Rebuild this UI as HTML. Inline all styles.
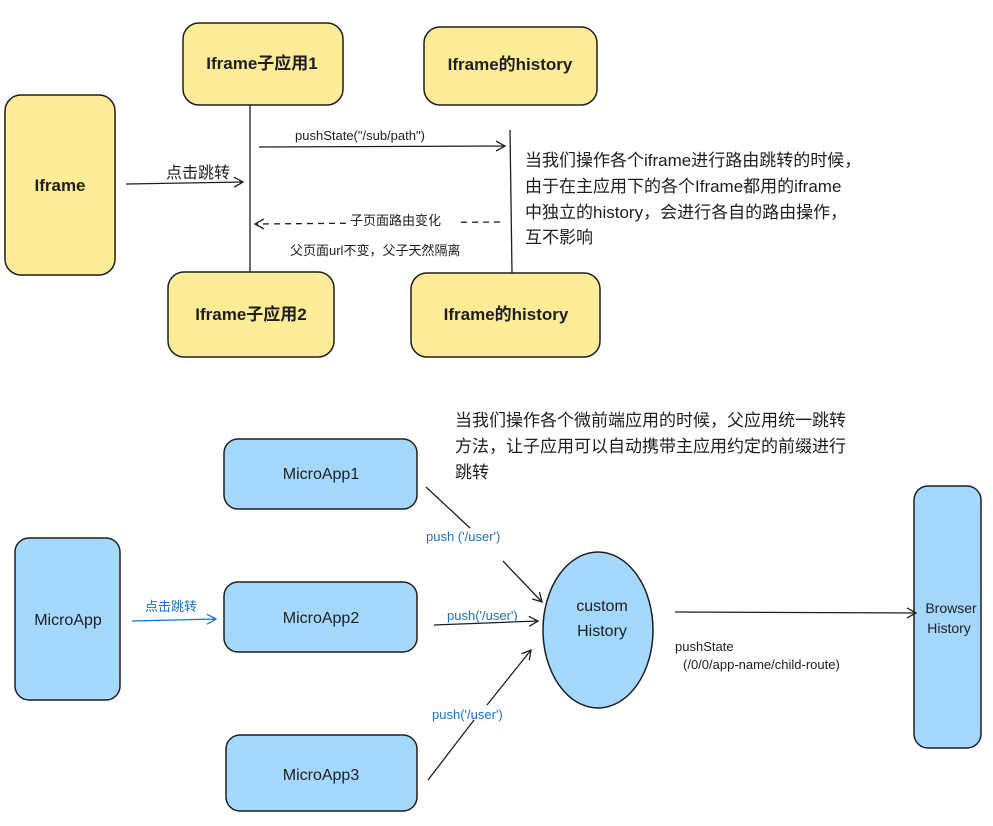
<!DOCTYPE html>
<html><head><meta charset="utf-8"><style>
body{margin:0;background:#fff}
svg text{font-family:"Liberation Sans","Noto Sans CJK SC",sans-serif}
</style></head><body>
<svg width="993" height="821" viewBox="0 0 993 821" xmlns="http://www.w3.org/2000/svg">
<defs>
<marker id="a" markerWidth="12" markerHeight="12" refX="10" refY="6" orient="auto" markerUnits="userSpaceOnUse"><path d="M1,1 L10,6 L1,11" fill="none" stroke="#1e1e1e" stroke-width="1.3"/></marker>
<marker id="b" markerWidth="12" markerHeight="12" refX="10" refY="6" orient="auto" markerUnits="userSpaceOnUse"><path d="M1,1 L10,6 L1,11" fill="none" stroke="#1971c2" stroke-width="1.3"/></marker>
</defs>
<g stroke="#1e1e1e" stroke-width="1.5" fill="#ffec99">
<rect x="5" y="95" width="110" height="180" rx="16"/>
<rect x="183" y="23" width="160" height="82" rx="16"/>
<rect x="424" y="27" width="173" height="78" rx="16"/>
<rect x="168" y="272" width="166" height="85" rx="16"/>
<rect x="411" y="273" width="189" height="84" rx="16"/>
</g>
<g font-size="17" font-weight="bold" fill="#1e1e1e" text-anchor="middle">
<text x="60" y="191">Iframe</text>
<text x="262" y="69">Iframe子应用1</text>
<text x="510" y="70">Iframe的history</text>
<text x="251" y="320">Iframe子应用2</text>
<text x="506" y="320">Iframe的history</text>
</g>
<g stroke="#1e1e1e" stroke-width="1.3" fill="none">
<line x1="250" y1="105" x2="250" y2="272"/>
<line x1="510" y1="130" x2="512" y2="273"/>
<line x1="126" y1="184" x2="243" y2="182" marker-end="url(#a)"/>
<line x1="259" y1="147" x2="505" y2="146" marker-end="url(#a)"/>
<line x1="500" y1="222" x2="255" y2="224" stroke-dasharray="6,5" marker-end="url(#a)"/>
</g>
<g fill="#1e1e1e">
<text x="166" y="178" font-size="16">点击跳转</text>
<text x="295" y="140" font-size="13">pushState("/sub/path")</text>
<rect x="348" y="212" width="110" height="16" fill="#fff"/>
<text x="350" y="225" font-size="13">子页面路由变化</text>
<text x="290" y="255" font-size="13">父页面url不变，父子天然隔离</text>
<g font-size="17"><text x="525" y="166">当我们操作各个iframe进行路由跳转的时候，</text>
<text x="525" y="192">由于在主应用下的各个Iframe都用的iframe</text>
<text x="525" y="218">中独立的history，会进行各自的路由操作，</text>
<text x="525" y="243">互不影响</text></g>
<g font-size="17"><text x="455" y="426">当我们操作各个微前端应用的时候，父应用统一跳转</text>
<text x="455" y="452">方法，让子应用可以自动携带主应用约定的前缀进行</text>
<text x="455" y="478">跳转</text></g>
</g>
<g stroke="#1e1e1e" stroke-width="1.5" fill="#a5d8ff">
<rect x="15" y="538" width="105" height="162" rx="14"/>
<rect x="224" y="439" width="193" height="70" rx="14"/>
<rect x="224" y="582" width="193" height="70" rx="14"/>
<rect x="226" y="735" width="191" height="76" rx="14"/>
<ellipse cx="598" cy="630" rx="55" ry="78"/>
<rect x="914" y="486" width="67" height="262" rx="14"/>
</g>
<g font-size="16" fill="#1e1e1e" text-anchor="middle">
<text x="68" y="625">MicroApp</text>
<text x="321" y="479">MicroApp1</text>
<text x="321" y="623">MicroApp2</text>
<text x="321" y="780">MicroApp3</text>
<text x="602" y="611">custom</text>
<text x="602" y="636">History</text>
<text x="951" y="613" font-size="14">Browser</text>
<text x="949" y="633" font-size="14">History</text>
</g>
<g stroke="#1e1e1e" stroke-width="1.3" fill="none">
<line x1="426" y1="487" x2="470" y2="528"/>
<line x1="503" y1="561" x2="542" y2="602" marker-end="url(#a)"/>
<line x1="434" y1="625" x2="538" y2="621" marker-end="url(#a)"/>
<line x1="428" y1="780" x2="474" y2="720"/>
<line x1="487" y1="705" x2="531" y2="650" marker-end="url(#a)"/>
<line x1="675" y1="612" x2="916" y2="613" marker-end="url(#a)"/>
</g>
<line x1="132" y1="621" x2="216" y2="619" stroke="#1971c2" stroke-width="1.3" marker-end="url(#b)"/>
<g fill="#1971c2" font-size="13">
<text x="145" y="611">点击跳转</text>
<text x="426" y="541">push ('/user')</text>
<text x="447" y="620">push('/user')</text>
<text x="432" y="719">push('/user')</text>
</g>
<g fill="#1e1e1e" font-size="13">
<text x="675" y="651">pushState</text>
<text x="683" y="669">(/0/0/app-name/child-route)</text>
</g>
</svg>
</body></html>
